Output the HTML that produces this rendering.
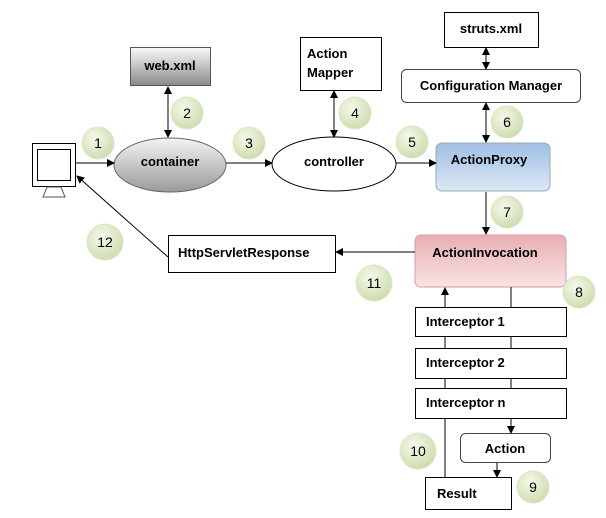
<!DOCTYPE html>
<html><head><style>
body{margin:0;background:#fff;}
svg text{font-family:"Liberation Sans",sans-serif;font-weight:bold;font-size:13px;fill:#000;}
svg text.n{font-weight:normal;font-size:14px;}
</style></head><body>
<svg width="606" height="513" viewBox="0 0 606 513" xmlns="http://www.w3.org/2000/svg">
<defs>
<marker id="a" markerWidth="8" markerHeight="8" refX="7" refY="4" orient="auto-start-reverse" markerUnits="userSpaceOnUse"><path d="M0,0 L8,4 L0,8 z" fill="#000"/></marker>
<radialGradient id="g" cx="40%" cy="35%" r="70%"><stop offset="0" stop-color="#f6f9ec"/><stop offset="1" stop-color="#cbdbab"/></radialGradient>
<linearGradient id="gw" x1="0" y1="0" x2="0" y2="1"><stop offset="0" stop-color="#fafafa"/><stop offset="1" stop-color="#8a8a8a"/></linearGradient>
<linearGradient id="gc" x1="0" y1="0" x2="0" y2="1"><stop offset="0" stop-color="#f4f4f4"/><stop offset="1" stop-color="#9a9a9a"/></linearGradient>
<linearGradient id="gb" x1="0" y1="0" x2="0" y2="1"><stop offset="0" stop-color="#9fbfe3"/><stop offset="1" stop-color="#dce8f5"/></linearGradient>
<linearGradient id="gp" x1="0" y1="0" x2="0" y2="1"><stop offset="0" stop-color="#e9aeb0"/><stop offset="1" stop-color="#f8e4e4"/></linearGradient>
</defs>
<rect x="32.5" y="143.5" width="43" height="43" fill="#fff" stroke="#000"/>
<rect x="37.5" y="149.5" width="33" height="31" fill="#fff" stroke="#000"/>
<path d="M47,187 L61,187 L65,197 L43,197 Z" fill="#fff" stroke="#555"/>
<rect x="130.5" y="47.5" width="80" height="38" fill="url(#gw)" stroke="#555"/>
<text x="170" y="70" text-anchor="middle">web.xml</text>
<ellipse cx="170" cy="165" rx="56" ry="27" fill="url(#gc)" stroke="#666"/>
<text x="170" y="166" text-anchor="middle">container</text>
<rect x="300.5" y="37.5" width="81" height="53" fill="#fff" stroke="#000"/>
<text x="307" y="58">Action</text><text x="307" y="77">Mapper</text>
<ellipse cx="334" cy="164" rx="62" ry="27" fill="#fff" stroke="#000"/>
<text x="334" y="166" text-anchor="middle">controller</text>
<rect x="444.5" y="12.5" width="94" height="35" fill="#fff" stroke="#000"/>
<text x="491" y="33" text-anchor="middle">struts.xml</text>
<rect x="401.5" y="69.5" width="179" height="33" rx="5" fill="#fff" stroke="#444"/>
<text x="491" y="90" text-anchor="middle">Configuration Manager</text>
<rect x="436" y="143" width="114" height="48" rx="6" fill="url(#gb)" stroke="#9ab"/>
<text x="489" y="164" text-anchor="middle">ActionProxy</text>
<rect x="415" y="235" width="151" height="52" rx="6" fill="url(#gp)" stroke="#d9a"/>
<text x="485" y="257" text-anchor="middle">ActionInvocation</text>
<rect x="168.5" y="235.5" width="167" height="37" fill="#fff" stroke="#000"/>
<text x="178" y="257">HttpServletResponse</text>
<rect x="415.5" y="307.5" width="151" height="29" fill="#fff" stroke="#000"/>
<text x="426" y="326">Interceptor 1</text>
<rect x="415.5" y="348.5" width="151" height="30" fill="#fff" stroke="#000"/>
<text x="426" y="367">Interceptor 2</text>
<rect x="415.5" y="388.5" width="151" height="30" fill="#fff" stroke="#000"/>
<text x="426" y="407">Interceptor n</text>
<rect x="460.5" y="433.5" width="90" height="29" rx="5" fill="#fff" stroke="#444"/>
<text x="505" y="453" text-anchor="middle">Action</text>
<rect x="425.5" y="477.5" width="86" height="32" fill="#fff" stroke="#000"/>
<text x="437" y="498">Result</text>
<g stroke="#000" stroke-width="1" fill="none">
<line x1="75" y1="163" x2="114" y2="163" marker-end="url(#a)"/>
<line x1="226" y1="163" x2="272" y2="163" marker-end="url(#a)"/>
<line x1="396" y1="163" x2="436" y2="163" marker-end="url(#a)"/>
<line x1="168" y1="87" x2="168" y2="137" marker-start="url(#a)" marker-end="url(#a)"/>
<line x1="334" y1="91" x2="334" y2="137" marker-start="url(#a)" marker-end="url(#a)"/>
<line x1="486" y1="48" x2="486" y2="69" marker-start="url(#a)" marker-end="url(#a)"/>
<line x1="486" y1="103" x2="486" y2="142" marker-start="url(#a)" marker-end="url(#a)"/>
<line x1="486" y1="192" x2="486" y2="234" marker-end="url(#a)"/>
<line x1="415" y1="252" x2="336" y2="252" marker-end="url(#a)"/>
<line x1="168" y1="257" x2="77" y2="176" marker-end="url(#a)"/>
<line x1="445" y1="307" x2="445" y2="288" marker-end="url(#a)"/>
<line x1="511" y1="287" x2="511" y2="307"/>
<line x1="445" y1="337" x2="445" y2="348"/><line x1="511" y1="337" x2="511" y2="348"/>
<line x1="445" y1="379" x2="445" y2="388"/><line x1="511" y1="379" x2="511" y2="388"/>
<line x1="511" y1="419" x2="511" y2="433" marker-end="url(#a)"/>
<line x1="445" y1="419" x2="445" y2="477"/>
<line x1="497" y1="463" x2="497" y2="477" marker-end="url(#a)"/>
</g>
<g fill="url(#g)" stroke="#dde6c8">
<circle cx="98" cy="143" r="16"/><circle cx="187" cy="113" r="16"/><circle cx="249" cy="143" r="16"/>
<circle cx="355" cy="113" r="16"/><circle cx="412" cy="142" r="16"/><circle cx="507" cy="122" r="16"/>
<circle cx="507" cy="212" r="16"/><circle cx="579" cy="292" r="16"/><circle cx="533" cy="487" r="16"/>
<circle cx="418" cy="451" r="18"/><circle cx="374" cy="283" r="18"/><circle cx="105" cy="242" r="18"/>
</g>
<text class="n" x="98" y="148" text-anchor="middle">1</text>
<text class="n" x="187" y="118" text-anchor="middle">2</text>
<text class="n" x="249" y="148" text-anchor="middle">3</text>
<text class="n" x="355" y="118" text-anchor="middle">4</text>
<text class="n" x="412" y="147" text-anchor="middle">5</text>
<text class="n" x="507" y="127" text-anchor="middle">6</text>
<text class="n" x="507" y="217" text-anchor="middle">7</text>
<text class="n" x="579" y="297" text-anchor="middle">8</text>
<text class="n" x="533" y="492" text-anchor="middle">9</text>
<text class="n" x="418" y="456" text-anchor="middle">10</text>
<text class="n" x="374" y="288" text-anchor="middle">11</text>
<text class="n" x="105" y="247" text-anchor="middle">12</text>
</svg>
</body></html>
